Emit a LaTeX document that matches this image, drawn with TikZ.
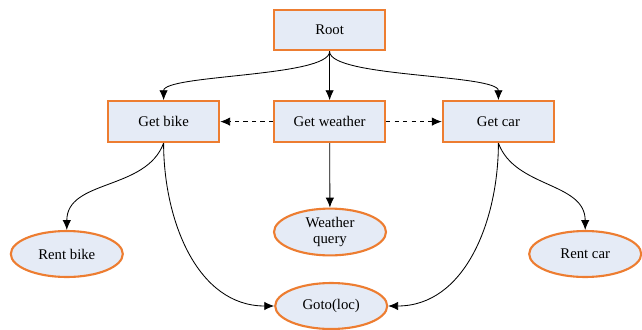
\documentclass[tikz,border=0pt]{standalone}
\usepackage{fontspec}
\setmainfont{Liberation Serif}
\usepackage{tikz}
\usetikzlibrary{arrows.meta,shapes.geometric}
\definecolor{boxorange}{RGB}{237,125,49}
\definecolor{boxfill}{RGB}{229,235,246}

\begin{document}
\begin{tikzpicture}[>={Latex[length=7pt,width=6pt]}, line width=0.6pt,
  task/.style={draw=boxorange, fill=boxfill, line width=1.5pt, minimum width=2.78cm, minimum height=1.02cm, font=\fontsize{10.5}{12}\selectfont},
  action/.style={ellipse, draw=boxorange, fill=boxfill, line width=1.5pt, minimum width=2.8cm, minimum height=1.15cm, inner sep=1pt, align=center, font=\fontsize{10.5}{12}\selectfont}]
\useasboundingbox (0,0) rectangle (16.05,-8.225);
% Tasks
\node[task] (root) at (8.24,-0.75) {Root};
\node[task] (bike) at (4.09,-3.04) {Get bike};
\node[task] (weather) at (8.24,-3.04) {Get weather};
\node[task] (car) at (12.46,-3.04) {Get car};
% Actions
\node[action] (query) at (8.25,-5.8) {Weather\\query};
\node[action] (rentbike) at (1.67,-6.35) {Rent bike};
\node[action] (rentcar) at (14.63,-6.35) {Rent car};
\node[action] (goto) at (8.28,-7.65) {Goto(loc)};
% Root links
\draw[->] (root.south) to[out=-90,in=90,looseness=0.38] (bike.north);
\draw[->] (root) -- (weather);
\draw[->] (root.south) to[out=-90,in=90,looseness=0.38] (car.north);
% Weather links
\draw[->, dashed] (weather) -- (bike);
\draw[->, dashed] (weather) -- (car);
\draw[->] (weather) -- (query);
% Bike and car links
\draw[->] (bike.south) to[out=-110,in=90] (rentbike.north);
\draw[->] (bike.south) to[out=-90,in=180] (goto.west);
\draw[->] (car.south) to[out=-70,in=90] (rentcar.north);
\draw[->] (car.south) to[out=-90,in=0] (goto.east);
\end{tikzpicture}
\end{document}
